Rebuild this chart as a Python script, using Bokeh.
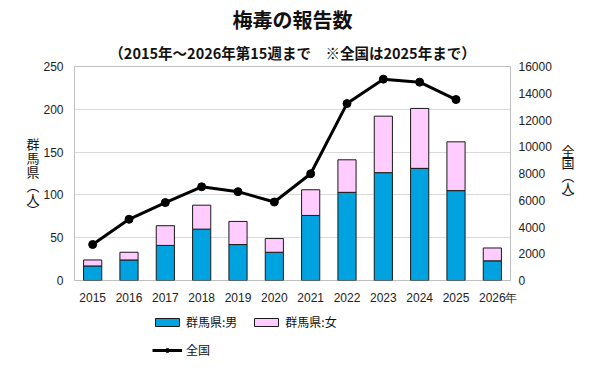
from bokeh.plotting import figure
from bokeh.layouts import column
from bokeh.models import (Range1d, LinearAxis, SingleIntervalTicker, FixedTicker, Legend,
                          LegendItem, Title, ColumnDataSource)
from bokeh.embed import file_html
from bokeh.resources import INLINE

years = [2015, 2016, 2017, 2018, 2019, 2020, 2021, 2022, 2023, 2024, 2025, 2026]
gunma_male = [17, 24, 41, 60, 42, 33, 76, 103, 126, 131, 105, 23]
gunma_female = [7, 9, 23, 28, 27, 16, 30, 38, 66, 70, 57, 15]
nat_years = [2015, 2016, 2017, 2018, 2019, 2020, 2021, 2022, 2023, 2024, 2025]
national = [2690, 4575, 5826, 7007, 6642, 5867, 7978, 13228, 15055, 14830, 13530]

title_text = "梅毒の報告数"
subtitle_text = "（2015年～2026年第15週まで　※全国は2025年まで）"
x_unit = "年"
left_label = ["群", "馬", "県", "︵", "人", "︶"]
right_label = ["全", "国", "︵", "人", "︶"]
legend_labels = ["群馬県:男", "群馬県:女", "全国"]
male_color = "#00A3E0"
female_color = "#FFCCFF"

JP = "Noto Sans CJK JP"
NUM = "Liberation Sans"
NAN = float("nan")

# main figure: frame 436 x 214 px
p = figure(width=591, height=304, frame_width=436, frame_height=214,
           x_range=Range1d(years[0] - 0.5, years[-1] + 0.5),
           y_range=Range1d(0, 250), output_backend="svg", toolbar_location=None,
           min_border_left=74, min_border_right=81, min_border_top=66, min_border_bottom=24)
p.extra_y_ranges = {"nat": Range1d(0, 16000), "lab": Range1d(0, 214)}

src = ColumnDataSource(dict(year=years, male=gunma_male, female=gunma_female))
bars = p.vbar_stack(["male", "female"], x="year", width=0.5, source=src,
                    color=[male_color, female_color], line_color="#1a1a1a", line_width=1)

lsrc = ColumnDataSource(dict(year=nat_years, nat=national))
ln = p.line("year", "nat", source=lsrc, y_range_name="nat", line_color="black", line_width=3)
pts = p.scatter("year", "nat", source=lsrc, y_range_name="nat", size=8, color="black")

# x axis: years plus the unit label at the right end
unit_pos = years[-1] + 0.5
p.xaxis.ticker = FixedTicker(ticks=years + [unit_pos])
overrides = {y: str(y) for y in years}
overrides[unit_pos] = x_unit
p.xaxis.major_label_overrides = overrides

p.yaxis.ticker = SingleIntervalTicker(interval=50)
ra = LinearAxis(y_range_name="nat", ticker=SingleIntervalTicker(interval=2000))
p.add_layout(ra, "right")

def style_axis(ax, font, size, standoff):
    ax.axis_line_color = None
    ax.major_tick_line_color = None
    ax.minor_tick_line_color = None
    ax.major_tick_out = 0
    ax.major_tick_in = 0
    ax.minor_tick_out = 0
    ax.minor_tick_in = 0
    ax.major_label_text_font = font
    ax.major_label_text_font_size = size
    ax.major_label_text_color = "#222222"
    ax.major_label_standoff = standoff

style_axis(p.xaxis[0], NUM, "12px", 10)
style_axis(p.yaxis[0], NUM, "12px", 11)
style_axis(ra, NUM, "12px", 8)

# vertical axis titles drawn as stacked upright characters (px offsets from frame bottom)
left_pos = [137.3, 123, 109, 95.5, 82.5, 71]
right_pos = [130, 118, 105.5, 93, 83]

def label_axis(chars, pos, side, standoff):
    ax = LinearAxis(y_range_name="lab", ticker=FixedTicker(ticks=pos),
                    major_label_overrides={pp: c for pp, c in zip(pos, chars)})
    style_axis(ax, JP, "13px", standoff)
    ax.major_label_text_color = "#111111"
    p.add_layout(ax, side)

label_axis(left_label, left_pos, "left", 1)
label_axis(right_label, right_pos, "right", 7)

p.xgrid.grid_line_color = None
p.ygrid.grid_line_color = "#D9D9D9"
p.outline_line_color = "#BFBFBF"

p.add_layout(Title(text=subtitle_text, align="center", text_font=JP, text_font_size="14.5px",
                   text_font_style="bold", text_color="#111111", standoff=7), "above")
p.add_layout(Title(text=title_text, align="center", text_font=JP, text_font_size="20px",
                   text_font_style="bold", text_color="#111111", standoff=5), "above")

# legend figure below (legend proxies carry no visible data)
lf = figure(width=591, height=60, frame_width=436, frame_height=60,
            x_range=Range1d(0, 1), y_range=Range1d(0, 1),
            output_backend="svg", toolbar_location=None,
            min_border_left=74, min_border_right=81, min_border_top=0, min_border_bottom=0,
            x_axis_location=None, y_axis_location=None, outline_line_color=None)
lf.grid.visible = False
r_m = lf.vbar(x=[NAN], top=[NAN], width=0.5, fill_color=male_color, line_color="#1a1a1a")
r_f = lf.vbar(x=[NAN], top=[NAN], width=0.5, fill_color=female_color, line_color="#1a1a1a")
r_l = lf.line(x=[NAN], y=[NAN], line_color="black", line_width=3)
r_p = lf.scatter(x=[NAN], y=[NAN], size=8, color="black")

common = dict(glyph_width=30, glyph_height=10, label_text_font=JP, label_text_font_size="12px",
              label_text_color="#111111", label_standoff=4, spacing=14, padding=2, margin=0,
              border_line_color=None, background_fill_alpha=0, orientation="horizontal")
leg1 = Legend(items=[LegendItem(label=legend_labels[0], renderers=[r_m]),
                     LegendItem(label=legend_labels[1], renderers=[r_f])],
              location=(78, 37), **common)
leg2 = Legend(items=[LegendItem(label=legend_labels[2], renderers=[r_l, r_p])],
              location=(78, 9), **common)
lf.add_layout(leg1)
lf.add_layout(leg2)

open("out.html", "w").write(file_html(column(p, lf), INLINE))
